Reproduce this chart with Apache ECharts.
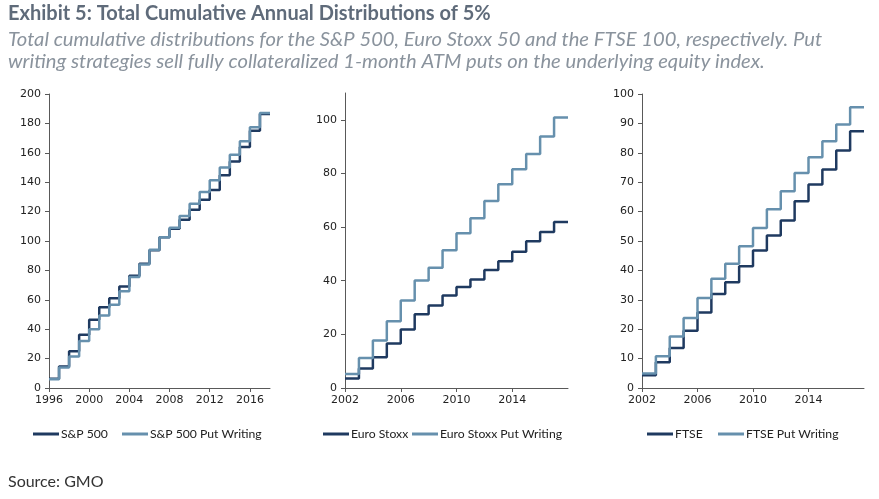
<!DOCTYPE html>
<html><head><meta charset="utf-8">
<script src="https://cdn.jsdelivr.net/npm/echarts@6/dist/echarts.min.js"></script>
<style>html,body{margin:0;padding:0;background:#fff}#c{width:879px;height:499px}</style>
</head><body><div id="c"></div>
<script>
// ---- data ----
const spxYears = [1996,1997,1998,1999,2000,2001,2002,2003,2004,2005,2006,2007,2008,2009,2010,2011,2012,2013,2014,2015,2016,2017,2018];
const spx    = [6.3,14.7,25,36.3,46.5,55,61,69,76.4,84.6,93.7,102.5,108.4,114.5,121.3,128,134.7,144.7,154,164,175,186.4,186.4];
const spxPut = [5.9,14,21.5,32,40,49.4,56.7,65.8,75.5,84,94,102.5,109,117,125.4,133.3,141.3,150,158.7,167.8,177.3,187,187];

const euroYears = [2002,2003,2004,2005,2006,2007,2008,2009,2010,2011,2012,2013,2014,2015,2016,2017,2018];
const euro    = [3.5,7.3,11.5,16.6,21.8,27.5,30.8,34.5,37.7,40.5,44,47.3,50.8,54.7,58.2,61.9,61.9];
const euroPut = [5.2,11.2,17.7,24.9,32.6,40.1,44.8,51.4,57.7,63.3,69.7,76,81.6,87.3,93.8,100.9,100.9];

const ftseYears = [2002,2003,2004,2005,2006,2007,2008,2009,2010,2011,2012,2013,2014,2015,2016,2017,2018];
const ftse    = [4.3,8.8,13.6,19.5,25.7,32,36,41.4,46.8,51.9,57,63.5,69.2,74.3,80.8,87.3,87.3];
const ftsePut = [4.9,10.8,17.5,23.8,30.6,37.2,42.3,48.2,54.4,60.8,66.9,73.1,78.5,83.9,89.6,95.5,95.5];

const spxXTicks  = [1996,2000,2004,2008,2012,2016];
const euroXTicks = [2002,2006,2010,2014];
const ftseXTicks = [2002,2006,2010,2014];
const spxYTicks  = [0,20,40,60,80,100,120,140,160,180,200];
const euroYTicks = [0,20,40,60,80,100];
const ftseYTicks = [0,10,20,30,40,50,60,70,80,90,100];

const names = ['S&P 500','S&P 500 Put Writing','Euro Stoxx','Euro Stoxx Put Writing','FTSE','FTSE Put Writing'];

// ---- styling ----
const DARK = '#1f3a60', LIGHT = '#6690ad', AX = '#595959';
const zip = (xs, ys) => xs.map((x, i) => [x, ys[i]]);

function xAxis(gi, min, max, ticks) {
  return {type:'value', gridIndex:gi, min:min, max:max,
    axisLine:{show:true, onZero:false, lineStyle:{color:AX, width:1}},
    axisTick:{show:true, customValues:ticks, length:4, lineStyle:{color:AX}},
    axisLabel:{customValues:ticks, formatter:v => String(v), color:'#222', fontFamily:'DejaVu Sans', fontSize:11, margin:7},
    splitLine:{show:false}};
}
function yAxis(gi, min, max, ticks) {
  return {type:'value', gridIndex:gi, min:min, max:max,
    axisLine:{show:true, lineStyle:{color:AX, width:1}},
    axisTick:{show:true, customValues:ticks, length:4, lineStyle:{color:AX}},
    axisLabel:{customValues:ticks, formatter:v => String(v), color:'#222', fontFamily:'DejaVu Sans', fontSize:11, margin:8},
    splitLine:{show:false}};
}
function line(name, gi, data, color) {
  return {name:name, type:'line', step:'end', xAxisIndex:gi, yAxisIndex:gi, data:data,
    symbol:'none', lineStyle:{width:2.5, color:color}, itemStyle:{color:color}, animation:false};
}
function leg(name, left) {
  return {data:[name], left:left, top:428, orient:'horizontal', icon:'rect', itemWidth:26, itemHeight:3,
    itemGap:0, padding:0, textStyle:{fontFamily:'Lato', fontSize:12.2, color:'#222', padding:[0,0,0,-3]}};
}

const chart = echarts.init(document.getElementById('c'), null, {renderer:'canvas'});
chart.setOption({
  animation:false,
  backgroundColor:'#fff',
  title:[
    {text:'Exhibit 5: Total Cumulative Annual Distributions of 5%', left:8, top:4, padding:0,
     textStyle:{fontFamily:'Lato', fontWeight:'bold', fontSize:20, color:'#5f6b7a'}},
    {text:'Total cumulative distributions for the S&P 500, Euro Stoxx 50 and the FTSE 100, respectively. Put\nwriting strategies sell fully collateralized 1-month ATM puts on the underlying equity index.',
     left:8, top:28, padding:0,
     textStyle:{fontFamily:'Lato', fontStyle:'italic', fontWeight:'normal', fontSize:20.2, lineHeight:22, color:'#8a939d'}},
    {text:'Source: GMO', left:8, top:474, padding:0,
     textStyle:{fontFamily:'Lato', fontWeight:'normal', fontSize:16, color:'#333'}}
  ],
  grid:[
    {left:49, top:94, width:221, height:294},
    {left:345, top:93, width:223, height:295},
    {left:642, top:94, width:222, height:294}
  ],
  xAxis:[ xAxis(0,1996,2018,spxXTicks), xAxis(1,2002,2018,euroXTicks), xAxis(2,2002,2018,ftseXTicks) ],
  yAxis:[ yAxis(0,0,200,spxYTicks), yAxis(1,0,110,euroYTicks), yAxis(2,0,100,ftseYTicks) ],
  legend:[ leg(names[0],33), leg(names[1],122), leg(names[2],323), leg(names[3],412), leg(names[4],647), leg(names[5],718) ],
  series:[
    line(names[0],0,zip(spxYears,spx),DARK),
    line(names[1],0,zip(spxYears,spxPut),LIGHT),
    line(names[2],1,zip(euroYears,euro),DARK),
    line(names[3],1,zip(euroYears,euroPut),LIGHT),
    line(names[4],2,zip(ftseYears,ftse),DARK),
    line(names[5],2,zip(ftseYears,ftsePut),LIGHT)
  ]
});
</script>
</body></html>
